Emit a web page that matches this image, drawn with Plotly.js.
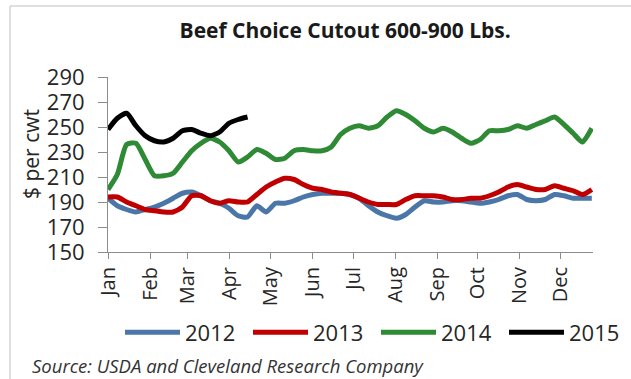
<!DOCTYPE html>
<html>
<head>
<meta charset="utf-8">
<script src="https://cdn.plot.ly/plotly-3.0.1.min.js"></script>
<style>html,body{margin:0;padding:0;background:#fff;}#chart{width:631px;height:379px;}</style>
</head>
<body>
<div id="chart"></div>
<script>
// Weekly values, $ per cwt (week 0 = first week of January)
var series2012 = [193,187,184,182,184,186,189,193,197,198,195,191,189,185,179,178,187,182,189,189,191,194,196,197,197,197,196,193,187,182,179,177,180,186,191,190,190,191,191,190,189,190,192,195,196,192,191,192,196,195,193,193,193];
var series2013 = [194,194,190,187,184,183,182,182,186,195,195,191,189,191,190,190,196,202,206,209,208,204,201,200,198,197,196,193,190,188,188,188,192,195,195,195,194,192,192,193,193,195,198,202,204,202,200,200,203,201,199,196,200];
var series2014 = [200,212,236,237,224,211,211,213,222,231,237,241,238,231,222,226,232,229,224,225,231,232,231,231,234,244,249,251,249,251,258,263,260,255,249,246,249,246,241,237,240,247,247,248,251,249,252,255,258,252,245,238,249];
var series2015 = [248,257,261,251,243,239,238,241,247,248,245,243,246,253,256,258];
var seriesNames = ["2012","2013","2014","2015"];
var seriesColors = ["#4a76a8","#c00000","#2e8a34","#000000"];
var monthLabels = ["Jan","Feb","Mar","Apr","May","Jun","Jul","Aug","Sep","Oct","Nov","Dec"];
var monthStartDay = [0,31,59,90,120,151,181,212,243,273,304,334];
var yTicks = [150,170,190,210,230,250,270,290];

var daysPerUnit = 358/52.13;
var allSeries = [series2012, series2013, series2014, series2015];
var traces = allSeries.map(function(s, k){
  return {
    x: s.map(function(_, i){ return i; }),
    y: s,
    type: 'scatter',
    mode: 'lines',
    name: seriesNames[k],
    line: {color: seriesColors[k], width: 5, shape: 'spline', smoothing: 0.6},
    hoverinfo: 'skip'
  };
});

var fontFam = '"Open Sans", "Noto Sans", sans-serif';
var layout = {
  width: 631, height: 379,
  margin: {l: 108, r: 38, t: 77, b: 127, autoexpand: false},
  paper_bgcolor: '#ffffff', plot_bgcolor: '#ffffff',
  showlegend: true,
  font: {family: fontFam, color: '#262626'},
  title: {text: '<b>Beef Choice Cutout 600-900 Lbs.</b>', font: {family: fontFam, size: 21, color: '#1a1a1a'},
          x: 0.489, xanchor: 'center', y: 0.92, yanchor: 'middle', xref: 'paper', yref: 'container'},
  xaxis: {
    range: [0, 52.13], showgrid: false, zeroline: false,
    showline: true, linecolor: '#8c8c8c', linewidth: 1,
    ticks: 'outside', ticklen: 6, tickcolor: '#8c8c8c',
    tickvals: monthStartDay.map(function(d){ return d/daysPerUnit; }),
    ticktext: monthLabels, tickangle: -90,
    tickfont: {family: fontFam, size: 20, color: '#262626'}
  },
  yaxis: {
    range: [150, 290], showgrid: false, zeroline: false,
    showline: true, linecolor: '#8c8c8c', linewidth: 1,
    ticks: 'outside', ticklen: 9, tickcolor: '#8c8c8c',
    tickvals: yTicks, ticktext: yTicks.map(String),
    ticklabelstandoff: 9,
    tickfont: {family: fontFam, size: 22, color: '#262626'}
  },
  legend: {
    orientation: 'h', x: (632-108)/485, xanchor: 'right', y: -0.46, yanchor: 'middle',
    font: {family: fontFam, size: 22, color: '#262626'},
    itemwidth: 55, entrywidth: 58, entrywidthmode: 'pixels', tracegroupgap: 0, bgcolor: 'rgba(0,0,0,0)'
  },
  annotations: [
    {text: '$ per cwt', textangle: -90, xref: 'paper', yref: 'paper',
     x: (31-108)/485, y: (252-154)/175, xanchor: 'center', yanchor: 'middle', showarrow: false,
     font: {family: fontFam, size: 21, color: '#262626'}},
    {text: '<i>Source: USDA and Cleveland Research Company</i>', xref: 'paper', yref: 'paper',
     x: (30-108)/485, y: (252-365)/175, xanchor: 'left', yanchor: 'middle', showarrow: false,
     font: {family: fontFam, size: 18.5, color: '#333333'}}
  ],
  shapes: [
    {type: 'rect', xref: 'paper', yref: 'paper', x0: (10-108)/485, x1: (660-108)/485,
     y0: (252-400)/175, y1: (252-6)/175, line: {color: '#bfbfbf', width: 1}, fillcolor: 'rgba(0,0,0,0)', layer: 'below'}
  ]
};

Plotly.newPlot('chart', traces, layout, {displayModeBar: false, staticPlot: true});
</script>
</body>
</html>
